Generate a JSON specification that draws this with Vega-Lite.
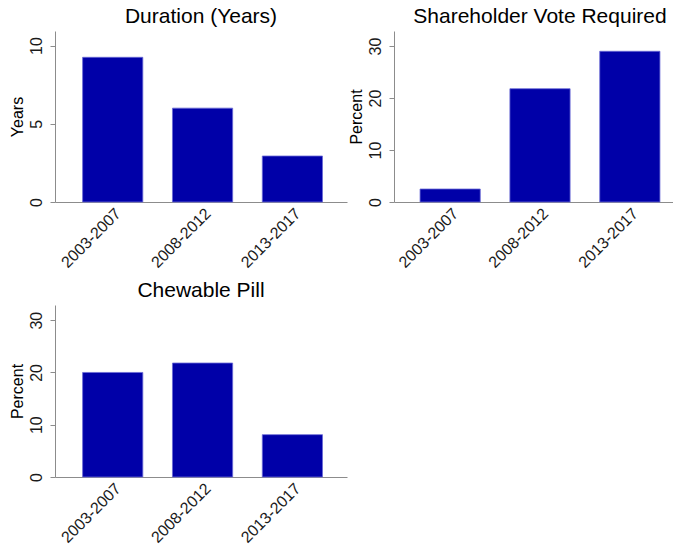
{
  "$schema": "https://vega.github.io/schema/vega-lite/v6.json",
  "padding": {"left": 8, "top": 6, "right": 0, "bottom": 0},
  "background": "white",
  "datasets": {
    "duration": [
      {"period": "2003-2007", "value": 9.25},
      {"period": "2008-2012", "value": 6.0},
      {"period": "2013-2017", "value": 2.94}
    ],
    "vote": [
      {"period": "2003-2007", "value": 2.5},
      {"period": "2008-2012", "value": 21.8},
      {"period": "2013-2017", "value": 29.0}
    ],
    "pill": [
      {"period": "2003-2007", "value": 20.0},
      {"period": "2008-2012", "value": 21.8},
      {"period": "2013-2017", "value": 8.1}
    ]
  },
  "config": {
    "font": "Liberation Sans",
    "view": {"stroke": null},
    "title": {"fontSize": 21, "fontWeight": "normal", "color": "#000000", "anchor": "middle", "offset": 4, "font": "Liberation Sans"},
    "axis": {
      "domainColor": "#8c8c8c",
      "tickColor": "#8c8c8c",
      "grid": false,
      "labelFontSize": 16,
      "labelColor": "#1a1a1a",
      "titleFontSize": 16,
      "titleFontWeight": "normal",
      "titleColor": "#000000",
      "labelFont": "Liberation Sans",
      "titleFont": "Liberation Sans"
    },
    "bar": {"color": "#0000a8", "stroke": "#6a6ad6", "strokeWidth": 0.8}
  },
  "bounds": "flush",
  "columns": 2,
  "spacing": {"row": 103, "column": 47},
  "concat": [
    {
      "title": "Duration (Years)",
      "data": {"name": "duration"},
      "width": 292,
      "height": 171,
      "mark": {"type": "bar"},
      "encoding": {
        "x": {"field": "period", "type": "nominal", "sort": null,
              "scale": {"paddingInner": 0.33, "paddingOuter": 0.29, "align": 0.53},
              "axis": {"title": null, "labelAngle": -45, "labelAlign": "right", "labelBaseline": "top", "ticks": false, "labelPadding": 3}},
        "y": {"field": "value", "type": "quantitative",
              "scale": {"domain": [0, 10.93], "nice": false, "zero": true},
              "axis": {"title": "Years", "values": [0, 5, 10], "labelAngle": 270, "labelAlign": "center", "labelBaseline": "bottom", "tickSize": 5, "labelPadding": 6, "titlePadding": 3}}
      }
    },
    {
      "title": "Shareholder Vote Required",
      "data": {"name": "vote"},
      "width": 292,
      "height": 171,
      "mark": {"type": "bar"},
      "encoding": {
        "x": {"field": "period", "type": "nominal", "sort": null,
              "scale": {"paddingInner": 0.33, "paddingOuter": 0.29, "align": 0.5},
              "axis": {"title": null, "labelAngle": -45, "labelAlign": "right", "labelBaseline": "top", "ticks": false, "labelPadding": 3}},
        "y": {"field": "value", "type": "quantitative",
              "scale": {"domain": [0, 32.9], "nice": false, "zero": true},
              "axis": {"title": "Percent", "values": [0, 10, 20, 30], "labelAngle": 270, "labelAlign": "center", "labelBaseline": "bottom", "tickSize": 5, "labelPadding": 6, "titlePadding": 3}}
      }
    },
    {
      "title": "Chewable Pill",
      "data": {"name": "pill"},
      "width": 292,
      "height": 172,
      "mark": {"type": "bar"},
      "encoding": {
        "x": {"field": "period", "type": "nominal", "sort": null,
              "scale": {"paddingInner": 0.33, "paddingOuter": 0.29, "align": 0.53},
              "axis": {"title": null, "labelAngle": -45, "labelAlign": "right", "labelBaseline": "top", "ticks": false, "labelPadding": 3}},
        "y": {"field": "value", "type": "quantitative",
              "scale": {"domain": [0, 32.9], "nice": false, "zero": true},
              "axis": {"title": "Percent", "values": [0, 10, 20, 30], "labelAngle": 270, "labelAlign": "center", "labelBaseline": "bottom", "tickSize": 5, "labelPadding": 6, "titlePadding": 3}}
      }
    }
  ]
}
